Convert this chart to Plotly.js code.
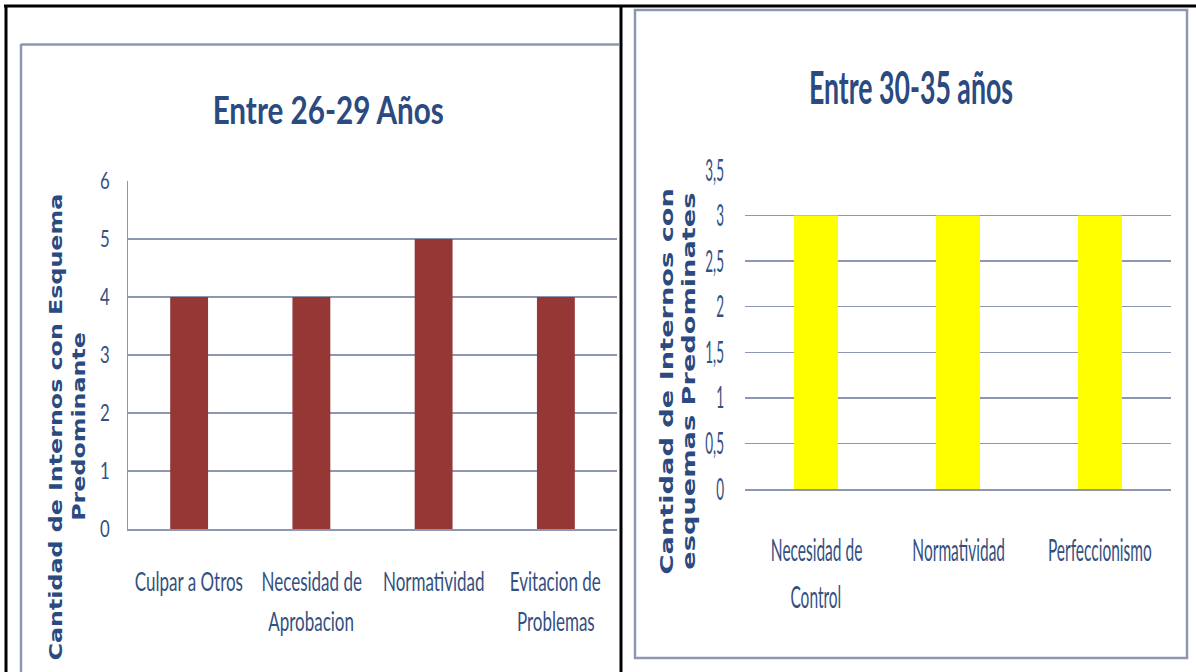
<!DOCTYPE html>
<html>
<head>
<meta charset="utf-8">
<script src="https://cdn.plot.ly/plotly-3.0.1.min.js"></script>
<style>html,body{margin:0;padding:0;background:#fff;}#chart{width:1196px;height:672px;}</style>
</head>
<body>
<div id="chart"></div>
<script>
// ---- data ----
const titleLeft = "Entre 26-29 Años";
const titleRight = "Entre 30-35 años";
const categoriesLeft = ["Culpar a Otros", "Necesidad de Aprobacion", "Normatividad", "Evitacion de Problemas"];
const labelLinesLeft = [["Culpar a Otros"], ["Necesidad de", "Aprobacion"], ["Normatividad"], ["Evitacion de", "Problemas"]];
const valuesLeft = [4, 4, 5, 4];
const categoriesRight = ["Necesidad de Control", "Normatividad", "Perfeccionismo"];
const labelLinesRight = [["Necesidad de", "Control"], ["Normatividad"], ["Perfeccionismo"]];
const valuesRight = [3, 3, 3];
const yTicksLeft = [0, 1, 2, 3, 4, 5, 6];
const yTickTextLeft = ["0", "1", "2", "3", "4", "5", "6"];
const yTicksRight = [0, 0.5, 1, 1.5, 2, 2.5, 3, 3.5];
const yTickTextRight = ["0", "0,5", "1", "1,5", "2", "2,5", "3", "3,5"];
const yTitleLeft = ["Cantidad de Internos con Esquema", "Predominante"];
const yTitleRight = ["Cantidad de Internos con", "esquemas Predominates"];

// ---- layout helpers ----
const W = 1196, H = 672;
const px = v => v / W;
const py = v => 1 - v / H;
const NARROW = "Lato, Roboto, sans-serif";
const WIDE = "DejaVu Sans, Verdana, sans-serif";
const TXT = "#33507f";
const TITLE = "#2a4a80";
const GRID = "#8e97b2";

// horizontal squeeze factors (per annotation / tick group)
const sx = [];

const traces = [
  {type: "bar", x: categoriesLeft, y: valuesLeft, xaxis: "x", yaxis: "y",
   marker: {color: "#953735"}, width: 0.31, hoverinfo: "x+y"},
  {type: "bar", x: categoriesRight, y: valuesRight, xaxis: "x2", yaxis: "y2",
   marker: {color: "#ffff00"}, width: 0.31, hoverinfo: "x+y"}
];

const annotations = [];
function addAnn(a, s, anchor) { annotations.push(a); sx.push({s: s, anchor: anchor || "middle"}); }

addAnn({text: titleLeft, xref: "paper", yref: "paper", x: px(328), y: py(109),
  showarrow: false, font: {family: NARROW, size: 38, color: TITLE, weight: "bold"}, xanchor: "center", yanchor: "middle"}, 0.78);
addAnn({text: titleRight, xref: "paper", yref: "paper", x: px(911), y: py(86),
  showarrow: false, font: {family: NARROW, size: 46, color: TITLE, weight: "bold"}, xanchor: "center", yanchor: "middle"}, 0.58);

const lineYLeft = [580, 620];
labelLinesLeft.forEach((lines, i) => lines.forEach((t, j) => addAnn({
  text: t, xref: "x", yref: "paper", x: categoriesLeft[i], y: py(lineYLeft[j]), showarrow: false,
  xanchor: "center", yanchor: "middle", font: {family: NARROW, size: 27, color: TXT}}, 0.63)));
const lineYRight = [549, 596];
labelLinesRight.forEach((lines, i) => lines.forEach((t, j) => addAnn({
  text: t, xref: "x2", yref: "paper", x: categoriesRight[i], y: py(lineYRight[j]), showarrow: false,
  xanchor: "center", yanchor: "middle", font: {family: NARROW, size: 31, color: TXT}}, 0.5)));

const yTitleXLeft = [55, 78];
yTitleLeft.forEach((t, j) => addAnn({text: t, xref: "paper", yref: "paper",
  x: px(yTitleXLeft[j]), y: py(427), textangle: -90, showarrow: false, xanchor: "center", yanchor: "middle",
  font: {family: WIDE, size: 18, color: TITLE, weight: "bold"}}, 1.32));
const yTitleXRight = [667, 689];
yTitleRight.forEach((t, j) => addAnn({text: t, xref: "paper", yref: "paper",
  x: px(yTitleXRight[j]), y: py(381), textangle: -90, showarrow: false, xanchor: "center", yanchor: "middle",
  font: {family: WIDE, size: 17, color: TITLE, weight: "bold"}}, 1.6));

const shapes = [
  {type: "line", xref: "paper", yref: "paper", x0: px(4), x1: px(1196), y0: py(6), y1: py(6), line: {color: "#000", width: 3}},
  {type: "line", xref: "paper", yref: "paper", x0: px(6), x1: px(6), y0: py(5), y1: py(672), line: {color: "#000", width: 3}},
  {type: "line", xref: "paper", yref: "paper", x0: px(621), x1: px(621), y0: py(5), y1: py(672), line: {color: "#000", width: 3}},
  {type: "line", xref: "paper", yref: "paper", x0: px(21), x1: px(619), y0: py(44.5), y1: py(44.5), line: {color: GRID, width: 2.5}},
  {type: "line", xref: "paper", yref: "paper", x0: px(21), x1: px(21), y0: py(44), y1: py(672), line: {color: GRID, width: 2.5}},
  {type: "rect", xref: "paper", yref: "paper", x0: px(635), x1: px(1187), y0: py(10), y1: py(658), line: {color: GRID, width: 2.5}}
];

const layout = {
  width: W, height: H, margin: {l: 0, r: 0, t: 0, b: 0},
  paper_bgcolor: "#fff", plot_bgcolor: "rgba(0,0,0,0)", showlegend: false,
  xaxis: {domain: [px(128), px(617)], anchor: "y", type: "category", range: [-0.5, categoriesLeft.length - 0.5],
    showticklabels: false, showgrid: false, zeroline: false, showline: true, linecolor: GRID, linewidth: 1.5, ticks: "", fixedrange: true},
  yaxis: {domain: [py(529), py(181)], anchor: "x", range: [0, 6], tickvals: yTicksLeft, ticktext: yTickTextLeft,
    showgrid: true, gridcolor: GRID, gridwidth: 1.5, zeroline: false, showline: true, linecolor: GRID, linewidth: 1.5,
    ticks: "outside", ticklen: 12, tickcolor: "rgba(0,0,0,0)", tickfont: {family: NARROW, size: 24, color: TXT}, fixedrange: true},
  xaxis2: {domain: [px(745), px(1171)], anchor: "y2", type: "category", range: [-0.5, categoriesRight.length - 0.5],
    showticklabels: false, showgrid: false, zeroline: false, showline: true, linecolor: GRID, linewidth: 1.5, ticks: "", fixedrange: true},
  yaxis2: {domain: [py(489), py(170)], anchor: "x2", range: [0, 3.5], tickvals: yTicksRight, ticktext: yTickTextRight,
    showgrid: true, gridcolor: GRID, gridwidth: 1.5, zeroline: false, showline: false,
    ticks: "outside", ticklen: 14, tickcolor: "rgba(0,0,0,0)", tickfont: {family: NARROW, size: 30, color: TXT}, fixedrange: true},
  annotations: annotations,
  shapes: shapes
};

function squeeze(el, s, anchor) {
  const bb = el.getBBox();
  const cx = anchor === "end" ? bb.x + bb.width : bb.x + bb.width / 2;
  const cy = bb.y + bb.height / 2;
  const t = el.getAttribute("transform") || "";
  el.setAttribute("transform", t + " translate(" + cx + "," + cy + ") scale(" + s + ",1) translate(" + (-cx) + "," + (-cy) + ")");
}

Plotly.newPlot("chart", traces, layout, {displayModeBar: false, staticPlot: true}).then(gd => {
  gd.querySelectorAll("g.annotation").forEach(g => {
    const i = +g.getAttribute("data-index");
    const txt = g.querySelector("text.annotation-text");
    if (txt && sx[i]) squeeze(txt, sx[i].s, sx[i].anchor);
  });
  gd.querySelectorAll(".ytick text").forEach(t => squeeze(t, 0.7, "end"));
  gd.querySelectorAll(".y2tick text").forEach(t => squeeze(t, 0.45, "end"));
});
</script>
</body>
</html>
